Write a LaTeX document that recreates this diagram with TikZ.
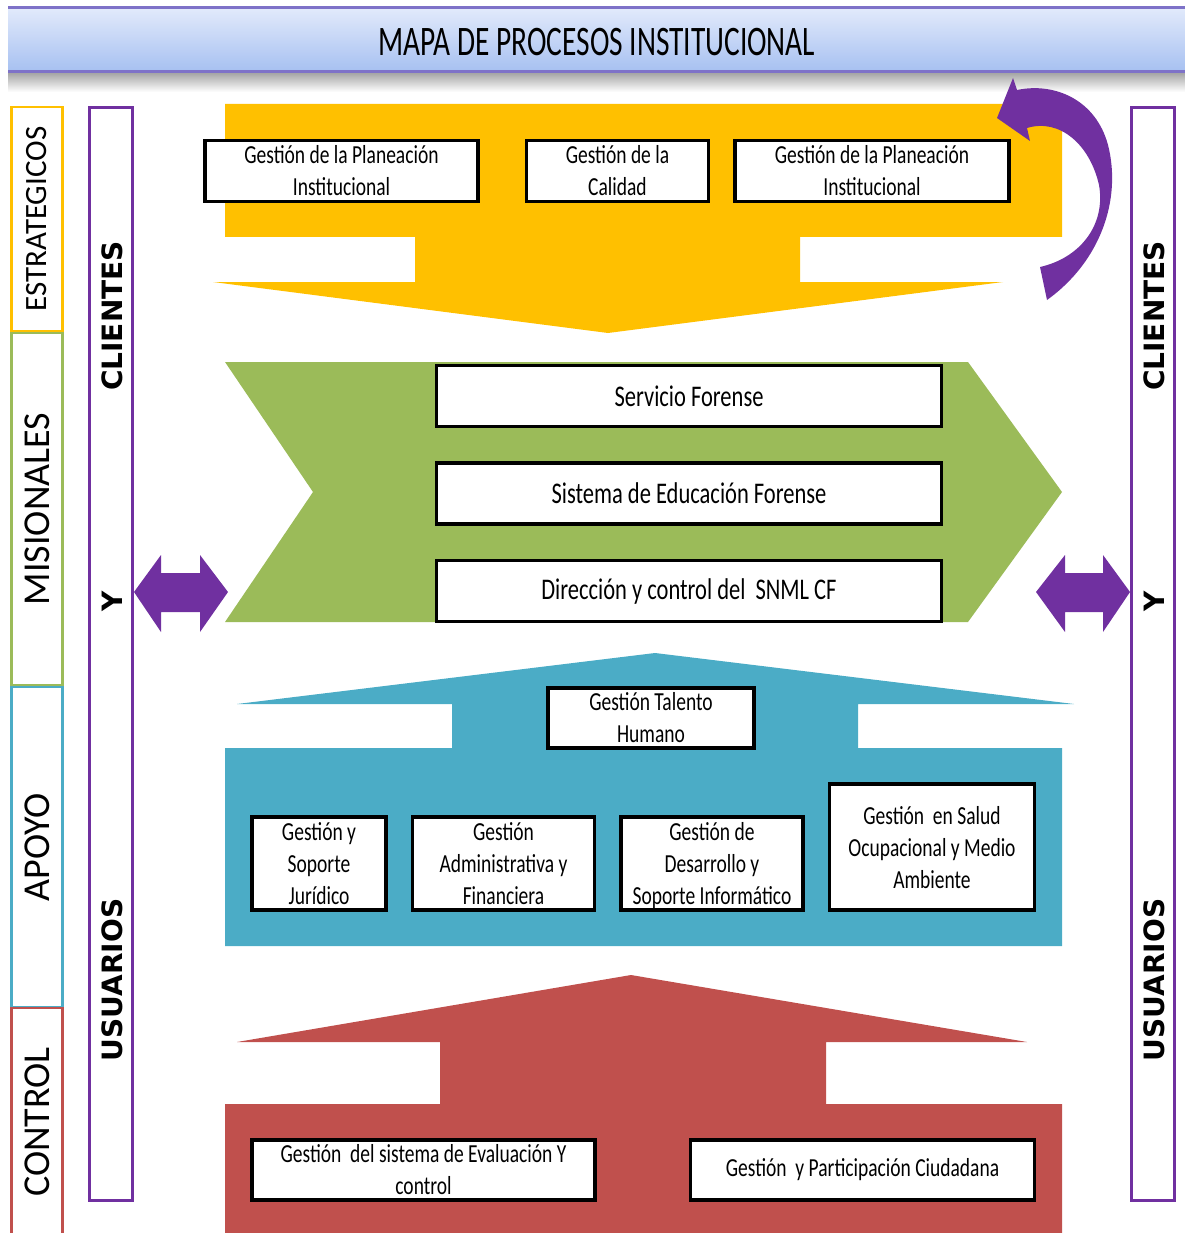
\documentclass[tikz,border=0pt]{standalone}
\usepackage{fontspec}
\setmainfont{Carlito}
\newfontfamily\condfont[FakeStretch=0.75]{Carlito}
\newfontfamily\titlefont[FakeStretch=0.7]{Carlito}
\newfontfamily\clientfont{DejaVu Sans}
\usetikzlibrary{positioning}

\definecolor{strat}{HTML}{FFC000}
\definecolor{misio}{HTML}{9BBB59}
\definecolor{apoyo}{HTML}{4BACC6}
\definecolor{contr}{HTML}{C0504D}
\definecolor{clien}{HTML}{7030A0}
\definecolor{titleline}{HTML}{7E72C8}
\definecolor{titletop}{HTML}{E2EAFB}
\definecolor{titlebot}{HTML}{A6C0F1}

\begin{document}
\begin{tikzpicture}[
        x=1pt, y=-1pt,
        proc/.style={rectangle, draw=black, line width=3.5pt, fill=white, align=center, inner sep=1pt, font=\condfont\fontsize{26}{32}\selectfont},
        tallproc/.style={proc, text depth=0pt},
        bigproc/.style={proc, font=\condfont\fontsize{30}{36}\selectfont, minimum width=505pt, minimum height=61pt},
        cat/.style={rectangle, draw=#1, line width=2.5pt, minimum height=51pt, rotate=90, font=\fontsize{38}{40}\selectfont},
        client/.style={rotate=90, font=\clientfont\bfseries\fontsize{28}{30}\selectfont},
        clientbox/.style={draw=clien, line width=3pt},
        node distance=33pt and 23pt
        ]
        \useasboundingbox (0,0) rectangle (1184,1233);

        %Title
        \shade[top color=black!35, bottom color=white] (8,73) rectangle (1190,92);
        \shade[top color=titletop, bottom color=titlebot] (8,8) rectangle (1190,72);
        \draw[titleline, line width=3pt] (8,8) -- (1190,8);
        \draw[titleline, line width=3pt] (8,72) -- (1190,72);
        \node[font=\titlefont\fontsize{42}{44}\selectfont] (titulo) at (597,42) {MAPA DE PROCESOS INSTITUCIONAL};

        %Categories
        \node[cat=strat, minimum width=224pt, font=\fontsize{31}{33}\selectfont] (estrategicos) at (37,219) {ESTRATEGICOS};
        \node[cat=misio, minimum width=352pt] (misionales) at (37,509) {MISIONALES};
        \node[cat=apoyo, minimum width=320pt] (apoyo) at (37,847) {APOYO};
        \node[cat=contr, minimum width=228pt] (control) at (37,1122) {CONTROL};

        %Clients and users
        \draw[clientbox] (89.5,107.5) rectangle (132.5,1200.5);
        \draw[clientbox] (1131.5,107.5) rectangle (1174.5,1200.5);
        \node[client] (clientesL) at (112,316) {CLIENTES};
        \node[client] (yL)        at (112,601) {Y};
        \node[client] (usuariosL) at (112,980) {USUARIOS};
        \node[client] (clientesR) at (1154,316) {CLIENTES};
        \node[client] (yR)        at (1154,601) {Y};
        \node[client] (usuariosR) at (1154,980) {USUARIOS};

        %Process shapes
        \fill[strat] (225,104) -- (1062,104) -- (1062,237) -- (800,237) -- (800,282) -- (1003,282)
            -- (608,333) -- (213,282) -- (415,282) -- (415,237) -- (225,237) -- cycle;
        \fill[misio] (225,362) -- (968,362) -- (1062,492) -- (968,622) -- (225,622) -- (313,492) -- cycle;
        \fill[apoyo] (655,653) -- (1074,704) -- (858,704) -- (858,748) -- (1062,748) -- (1062,946)
            -- (225,946) -- (225,748) -- (452,748) -- (452,704) -- (237,704) -- cycle;
        \fill[contr] (631,975) -- (1027,1042) -- (826,1042) -- (826,1104) -- (1062,1104) -- (1062,1233)
            -- (225,1233) -- (225,1104) -- (440,1104) -- (440,1042) -- (237,1042) -- cycle;

        %Arrows
        \fill[clien] (134,592) -- (161,555) -- (161,573) -- (200,573) -- (200,555) -- (228,592)
            -- (200,632) -- (200,612) -- (161,612) -- (161,632) -- cycle;
        \fill[clien] (1036,592) -- (1065,555) -- (1065,573) -- (1103,573) -- (1103,555) -- (1130,592)
            -- (1103,632) -- (1103,612) -- (1065,612) -- (1065,632) -- cycle;
        \fill[clien] (1047,300) .. controls (1100,262) and (1122,200) .. (1108,145)
            .. controls (1096,100) and (1055,82) .. (1017,90) -- (1013,78) -- (997,118) -- (1030,141)
            -- (1027,128) .. controls (1060,118) and (1090,145) .. (1099,185)
            .. controls (1106,225) and (1080,258) .. (1040,267) -- cycle;

        %Strategic
        \node[proc, minimum width=273pt, minimum height=61pt] (planeacion) at (341.5,171) {Gestión de la Planeación\\Institucional};
        \node[proc, minimum width=182pt, minimum height=61pt, right=45pt of planeacion] (calidad) {Gestión de la\\Calidad};
        \node[proc, minimum width=274pt, minimum height=61pt, right=of calidad] (planeacion2) {Gestión de la Planeación\\Institucional};

        %Missional
        \node[bigproc] (servicio) at (689,396) {Servicio Forense};
        \node[bigproc, below=of servicio] (educacion) {Sistema de Educación Forense};
        \node[bigproc, below=of educacion] (direccion) {Dirección y control del\ \ SNML CF};

        %Support
        \node[proc, minimum width=206pt, minimum height=60pt] (talento) at (651,718) {Gestión Talento\\Humano};
        \node[tallproc, minimum width=134pt, minimum height=93pt] (juridico) at (319,863.5) {Gestión y\\Soporte\\Jurídico};
        \node[tallproc, minimum width=182pt, minimum height=93pt, right=of juridico] (administrativa) {Gestión\\Administrativa y\\Financiera};
        \node[tallproc, minimum width=182pt, minimum height=93pt, right=of administrativa] (desarrollo) {Gestión de\\Desarrollo y\\Soporte Informático};
        \node[tallproc, minimum width=205pt, minimum height=126pt, anchor=south west] (salud)
            at ([xshift=23pt]desarrollo.south east) {Gestión\ \ en Salud\\Ocupacional y Medio\\Ambiente};

        %Control
        \node[proc, minimum width=343pt, minimum height=60pt] (evaluacion) at (423.5,1170) {Gestión\ \ del sistema de Evaluación Y\\control};
        \node[proc, minimum width=344pt, minimum height=60pt, right=92pt of evaluacion] (participacion) {Gestión\ \ y Participación Ciudadana};

    \end{tikzpicture}
\end{document}
